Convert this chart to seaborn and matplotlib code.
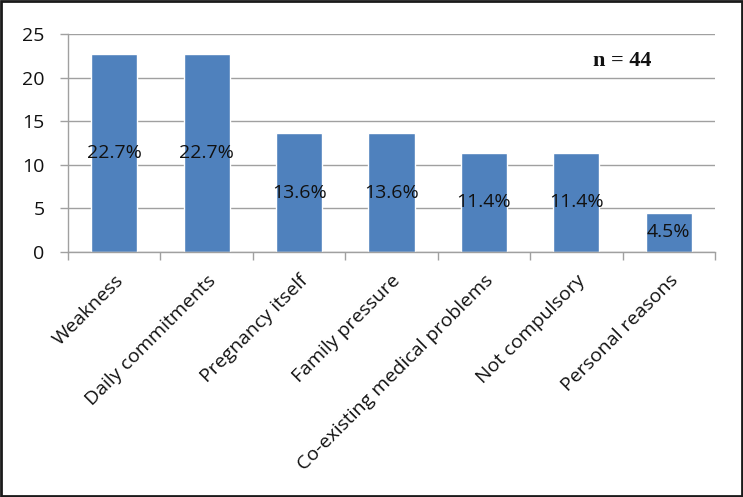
import matplotlib
matplotlib.use("Agg")
import matplotlib.pyplot as plt
import seaborn as sns
import pandas as pd
from matplotlib.patches import Rectangle

# data
reasons = ["Weakness", "Daily commitments", "Pregnancy itself", "Family pressure",
           "Co-existing medical problems", "Not compulsory", "Personal reasons"]
percent = [22.7, 22.7, 13.6, 13.6, 11.4, 11.4, 4.5]
y_ticks = [0, 5, 10, 15, 20, 25]
n_label = "n = 44"

df = pd.DataFrame({"reason": reasons, "percent": percent})

sns.set_theme(style="white")
plt.rcParams["font.family"] = ["Open Sans", "DejaVu Sans"]

fig = plt.figure(figsize=(7.43, 4.97), dpi=100)
ax = fig.add_axes([68 / 743, 1 - 252 / 497, (715 - 68) / 743, (252 - 34) / 497])

sns.barplot(data=df, x="reason", y="percent", color="#4F81BD", saturation=1,
            width=0.5, ax=ax)

# labels in the middle of each bar
ax.bar_label(ax.containers[0], labels=[f"{v}%" for v in percent],
             label_type="center", fontsize=14, color="#111111")

ax.set_ylim(0, 25)
ax.set_xlim(-0.5, len(reasons) - 0.5)
ax.set_yticks(y_ticks)
ax.yaxis.grid(True, color="#a0a0a0", linewidth=1)
ax.set_axisbelow(True)
ax.set_xlabel("")
ax.set_ylabel("")

# tick marks between categories, as in the original
ax.set_xticks(range(len(reasons)))
ax.set_xticklabels(reasons, rotation=45, ha="right", rotation_mode="anchor", fontsize=14,
                   color="#111111")
ax.set_xticks([i - 0.5 for i in range(len(reasons) + 1)], minor=True)
ax.tick_params(axis="x", which="major", length=0, pad=14)
ax.tick_params(axis="x", which="minor", length=6, color="#a0a0a0", width=1, direction="out", bottom=True)
ax.tick_params(axis="y", length=6, color="#a0a0a0", width=1, direction="out", left=True,
               labelsize=14, pad=11, labelcolor="#111111")

for side in ["top", "right"]:
    ax.spines[side].set_visible(False)
for side in ["left", "bottom"]:
    ax.spines[side].set_color("#a0a0a0")
    ax.spines[side].set_linewidth(1)

fig.text(622 / 743, 1 - 61 / 497, n_label, ha="center", va="center", fontsize=16,
         fontweight="bold", family=["Liberation Serif", "DejaVu Serif"], color="#111111")

# black frame around the whole figure
fig.patches.append(Rectangle((0.001, 0.002), 0.997, 0.996, transform=fig.transFigure,
                             fill=False, edgecolor="#1a1a1a", linewidth=2))

fig.savefig("out.png", dpi=100)
